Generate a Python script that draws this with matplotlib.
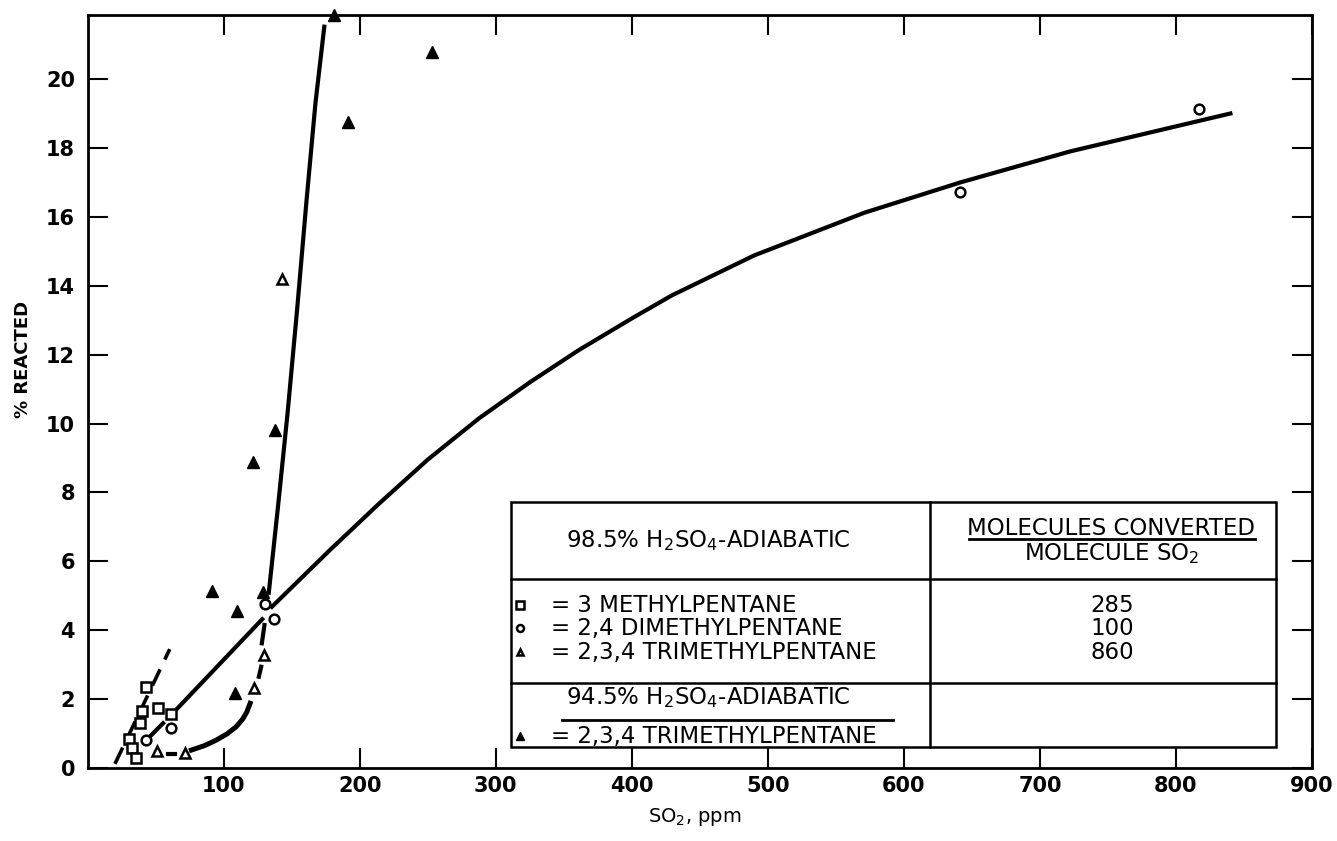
import numpy as np
import matplotlib
matplotlib.use('Agg')
import matplotlib.pyplot as plt
from matplotlib.patches import Rectangle

plt.rcParams['font.family'] = ['DejaVu Sans']
plt.rcParams['mathtext.fontset'] = 'dejavusans'

# Data points (SO2 ppm, % reacted)
sq_x = [30.5, 32.9, 35.4, 38.4, 40.3, 42.8, 51.6, 61.6]
sq_y = [0.84, 0.57, 0.30, 1.30, 1.66, 2.36, 1.73, 1.57]

circ_x = [42.6, 61.6, 130.1, 136.7, 641.0, 817.2]
circ_y = [0.81, 1.17, 4.75, 4.33, 16.72, 19.12]

otri_x = [51.1, 71.4, 122.2, 129.5, 143.0]
otri_y = [0.50, 0.43, 2.31, 3.28, 14.20]

ftri_x = [91.6, 108.1, 109.8, 121.5, 128.8, 137.4, 181.4, 191.2, 253.0]
ftri_y = [5.15, 2.17, 4.56, 8.87, 5.10, 9.81, 21.86, 18.76, 20.78]

# Hand-drawn curves
sq_line_x = [20.1, 43.5, 60.4]
sq_line_y = [0.12, 2.05, 3.45]

circ_dash_x = [47.0, 55.5]
circ_dash_y = [0.96, 1.30]
circ_low_x = [65.3, 128.4]
circ_low_y = [1.70, 4.32]
circ_main_x = [135.5, 178.2, 214.4, 250.0, 287.7, 325.2, 361.0, 400.0, 429.5,
               490.0, 571.0, 641.6, 722.3, 840.0]
circ_main_y = [4.68, 6.33, 7.68, 8.95, 10.15, 11.20, 12.13, 13.05, 13.72,
               14.88, 16.12, 17.00, 17.90, 19.00]

otri_dash_x = [59.2, 64.1]
otri_dash_y = [0.41, 0.41]
otri_curve_x = [76.3, 86.0, 94.6, 102.5, 109.3, 114.0, 117.0, 119.5]
otri_curve_y = [0.52, 0.65, 0.81, 0.99, 1.20, 1.42, 1.62, 1.88]
otri_up_x = [125.9, 127.6, 128.1, 130.0]
otri_up_y = [2.65, 2.94, 3.62, 4.15]

ftri_line_x = [133.2, 140.0, 147.0, 154.0, 161.0, 167.5, 174.0]
ftri_line_y = [5.09, 7.60, 10.30, 13.30, 16.50, 19.30, 21.52]

# Table contents
header_left = r'98.5% H$_2$SO$_4$-ADIABATIC'
header_right_top = 'MOLECULES CONVERTED'
header_right_bot = r'MOLECULE SO$_2$'
species = ['= 3 METHYLPENTANE', '= 2,4 DIMETHYLPENTANE', '= 2,3,4 TRIMETHYLPENTANE']
conversions = ['285', '100', '860']
footer_title = r'94.5% H$_2$SO$_4$-ADIABATIC'
footer_species = '= 2,3,4 TRIMETHYLPENTANE'

fig = plt.figure(figsize=(13.37, 8.41), dpi=100)
ax = fig.add_axes([0.0655, 0.0868, 0.9158, 0.8954])

lw = 3.0
ax.plot(sq_line_x, sq_line_y, color='black', lw=2.6, dashes=(5, 3), solid_capstyle='butt', zorder=2)
ax.plot(circ_dash_x, circ_dash_y, color='black', lw=lw, zorder=2)
ax.plot(circ_low_x, circ_low_y, color='black', lw=lw, zorder=2)
ax.plot(circ_main_x, circ_main_y, color='black', lw=lw, zorder=2)
ax.plot(otri_dash_x, otri_dash_y, color='black', lw=lw, zorder=2)
ax.plot(otri_curve_x, otri_curve_y, color='black', lw=lw + 0.6, zorder=2)
ax.plot(otri_up_x[:2], otri_up_y[:2], color='black', lw=lw, zorder=2)
ax.plot(otri_up_x[2:], otri_up_y[2:], color='black', lw=lw, zorder=2)
ax.plot(ftri_line_x, ftri_line_y, color='black', lw=lw, zorder=2)

# Markers
ax.plot(sq_x, sq_y, 's', ms=6.5, mfc='white', mec='black', mew=1.8, zorder=4)
ax.plot(circ_x, circ_y, 'o', ms=7, mfc='white', mec='black', mew=1.8, zorder=4)
ax.plot(otri_x, otri_y, '^', ms=7, mfc='white', mec='black', mew=1.8, zorder=4)
ax.plot(ftri_x, ftri_y, '^', ms=9, color='black', zorder=4, clip_on=False)

# Axes styling
ax.set_xlim(0, 900)
ax.set_ylim(0, 21.86)
ax.set_xticks(np.arange(100, 1000, 100))
ax.set_yticks(np.arange(0, 22, 2))
ax.tick_params(direction='in', length=14.4, width=1.5, top=True, right=True,
               labelsize=15)
ax.tick_params(axis='x', pad=6)
ax.tick_params(axis='y', pad=9)
for lab in ax.get_xticklabels() + ax.get_yticklabels():
    lab.set_fontweight('bold')
for s in ax.spines.values():
    s.set_linewidth(2.0)

ax.set_ylabel('% REACTED', fontsize=13, fontweight='bold')
ax.yaxis.set_label_coords(-0.045, 0.542)
ax.set_xlabel(r'SO$_2$, ppm', fontsize=14)
ax.xaxis.set_label_coords(0.496, -0.05)

# Legend table
tx0, tx1, tcol = 311.0, 873.5, 619.0
ty0, ty1, trow1, trow2 = 0.61, 7.72, 5.49, 2.47
ax.add_patch(Rectangle((tx0, ty0), tx1 - tx0, ty1 - ty0, facecolor='white',
                       edgecolor='black', lw=1.8, zorder=5))
ax.plot([tcol, tcol], [ty0, ty1], color='black', lw=1.8, zorder=6)
ax.plot([tx0, tx1], [trow1, trow1], color='black', lw=1.8, zorder=6)
ax.plot([tx0, tx1], [trow2, trow2], color='black', lw=1.8, zorder=6)

fs = 16.5
ax.text(456, 6.40, header_left, fontsize=fs, ha='center', va='baseline', zorder=7)
ax.text(752, 6.76, header_right_top, fontsize=fs, ha='center', va='baseline', zorder=7)
ax.plot([648, 858], [6.64, 6.64], color='black', lw=2.0, zorder=7)
ax.text(753, 6.04, header_right_bot, fontsize=fs, ha='center', va='baseline', zorder=7)

row_base = [4.54, 3.86, 3.16]
row_mk = ['s', 'o', '^']
for yy, mk, name, val in zip(row_base, row_mk, species, conversions):
    ax.plot([317.6], [yy + 0.2], mk, ms=6 if mk == 's' else 5, mfc='white',
            mec='black', mew=1.8, zorder=7)
    ax.text(341, yy, name, fontsize=fs, ha='left', va='baseline', zorder=7)
    ax.text(753, yy, val, fontsize=fs, ha='center', va='baseline', zorder=7)

ax.text(456, 1.86, footer_title, fontsize=fs, ha='center', va='baseline', zorder=7)
ax.plot([349, 592], [1.39, 1.39], color='black', lw=2.0, zorder=7)
ax.plot([317.6], [0.92], '^', ms=6, color='black', zorder=7)
ax.text(341, 0.72, footer_species, fontsize=fs, ha='left', va='baseline', zorder=7)

fig.savefig('out.png', dpi=100)
